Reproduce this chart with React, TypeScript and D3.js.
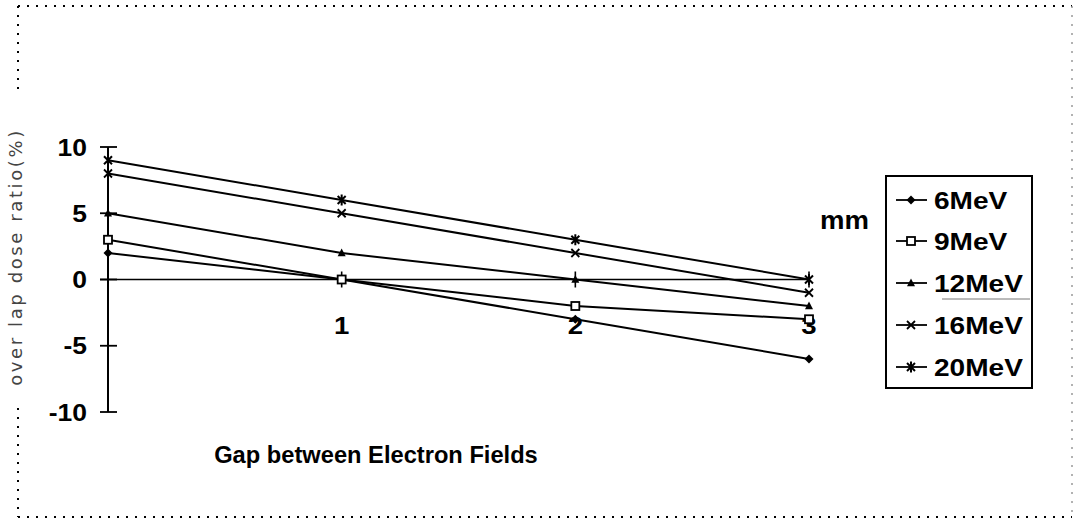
import React from "react";
import * as d3 from "d3";

const gaps = [0, 1, 2, 3];
const seriesNames = ["6MeV", "9MeV", "12MeV", "16MeV", "20MeV"];
const mev6 = [2, 0, -3, -6];
const mev9 = [3, 0, -2, -3];
const mev12 = [5, 2, 0, -2];
const mev16 = [8, 5, 2, -1];
const mev20 = [9, 6, 3, 0];
const yTicks = [10, 5, 0, -5, -10];
const xTickLabels = ["1", "2", "3"];
const symbols = ["diamond", "square", "triangle", "cross", "star"];

const W = 1074;
const H = 519;

function Marker({ type, x, y }: { type: string; x: number; y: number }) {
  const s = 4.5;
  if (type === "diamond") {
    return <path d={`M${x},${y - s}L${x + s},${y}L${x},${y + s}L${x - s},${y}Z`} fill="#000" />;
  }
  if (type === "square") {
    return <rect x={x - 4} y={y - 4} width={8} height={8} fill="#fff" stroke="#000" strokeWidth={1.8} />;
  }
  if (type === "triangle") {
    return <path d={`M${x},${y - 4.5}L${x + 4},${y + 3.2}L${x - 4},${y + 3.2}Z`} fill="#000" />;
  }
  if (type === "cross") {
    return (
      <path d={`M${x - 4},${y - 4}L${x + 4},${y + 4}M${x - 4},${y + 4}L${x + 4},${y - 4}`} stroke="#000" strokeWidth={1.8} />
    );
  }
  return (
    <path
      d={`M${x - 4},${y - 4}L${x + 4},${y + 4}M${x - 4},${y + 4}L${x + 4},${y - 4}M${x},${y - 5.5}L${x},${y + 5.5}`}
      stroke="#000"
      strokeWidth={2}
    />
  );
}

function SText({ x, y, children, size, sx = 1, anchor = "start" }: any) {
  return (
    <text
      transform={`translate(${x},${y}) scale(${sx},1)`}
      fontFamily="Liberation Sans, Arial, sans-serif"
      fontWeight="bold"
      fontSize={size}
      textAnchor={anchor}
      fill="#000"
    >
      {children}
    </text>
  );
}

export default function App() {
  const x = d3.scaleLinear().domain([0, 3]).range([108, 809]);
  const y = d3.scaleLinear().domain([-10, 10]).range([412, 147]);
  const data = [mev6, mev9, mev12, mev16, mev20];
  const line = d3
    .line<number>()
    .x((_, i) => x(gaps[i]))
    .y((d) => y(d));

  const legendX = 886;
  const legendY = 176;
  const legendRows = [200, 241, 283, 325, 367];

  return (
    <svg width={W} height={H} style={{ position: "absolute", left: 0, top: 0, background: "#fff" }}>
      <rect x={0} y={0} width={W} height={H} fill="#fff" />
      {/* dotted frame */}
      <g stroke="#000" strokeWidth={2} strokeDasharray="2 7" fill="none">
        <line x1={18} y1={6} x2={1072} y2={6} />
        <line x1={18} y1={517} x2={1072} y2={517} />
        <line x1={18} y1={6} x2={18} y2={96} />
        <line x1={18} y1={408} x2={18} y2={517} />
      </g>
      <line x1={1072} y1={6} x2={1072} y2={517} stroke="#999" strokeWidth={1.5} strokeDasharray="2 7" />

      {/* y axis */}
      <line x1={x(0)} y1={y(10)} x2={x(0)} y2={y(-10)} stroke="#000" strokeWidth={2} />
      {yTicks.map((t) => (
        <g key={t}>
          <line x1={x(0) - 8} x2={x(0) + 9} y1={y(t)} y2={y(t)} stroke="#000" strokeWidth={1.8} />
          <SText x={87} y={y(t) + 8.5} size={23} sx={1.15} anchor="end">
            {t}
          </SText>
        </g>
      ))}

      {/* x axis */}
      <line x1={x(0) - 8} x2={x(3)} y1={y(0)} y2={y(0)} stroke="#000" strokeWidth={1.6} />
      {gaps.slice(1).map((g, i) => (
        <g key={g}>
          <line x1={x(g)} x2={x(g)} y1={y(0) - 8} y2={y(0) + 8} stroke="#000" strokeWidth={1.6} />
          <SText x={x(g)} y={y(0) + 54} size={24} sx={1.15} anchor="middle">
            {xTickLabels[i]}
          </SText>
        </g>
      ))}

      {/* series */}
      {data.map((vals, si) => (
        <g key={seriesNames[si]}>
          <path d={line(vals) || ""} fill="none" stroke="#000" strokeWidth={2} />
          {vals.map((v, i) => (
            <Marker key={i} type={symbols[si]} x={x(gaps[i])} y={y(v)} />
          ))}
        </g>
      ))}

      {/* axis titles */}
      <SText x={376} y={463} size={23} sx={1.03} anchor="middle">
        Gap between Electron Fields
      </SText>
      <SText x={820} y={229} size={26} sx={1.06}>
        mm
      </SText>
      <text
        transform={`translate(22,257) rotate(-90)`}
        fontFamily="DejaVu Sans, sans-serif"
        fontSize={18}
        letterSpacing={2.6}
        textAnchor="middle"
        fill="#444"
      >
        over lap dose ratio(%)
      </text>

      {/* legend */}
      <rect x={legendX} y={legendY} width={146} height={212} fill="#fff" stroke="#000" strokeWidth={2} />
      {seriesNames.map((n, i) => (
        <g key={n}>
          <line x1={896} x2={927} y1={legendRows[i]} y2={legendRows[i]} stroke="#000" strokeWidth={1.8} />
          <Marker type={symbols[i]} x={911} y={legendRows[i]} />
          <SText x={934} y={legendRows[i] + 8.5} size={24} sx={1.17}>
            {n}
          </SText>
        </g>
      ))}
      <line x1={942} x2={1030} y1={299} y2={299} stroke="#777" strokeWidth={1} />
    </svg>
  );
}
